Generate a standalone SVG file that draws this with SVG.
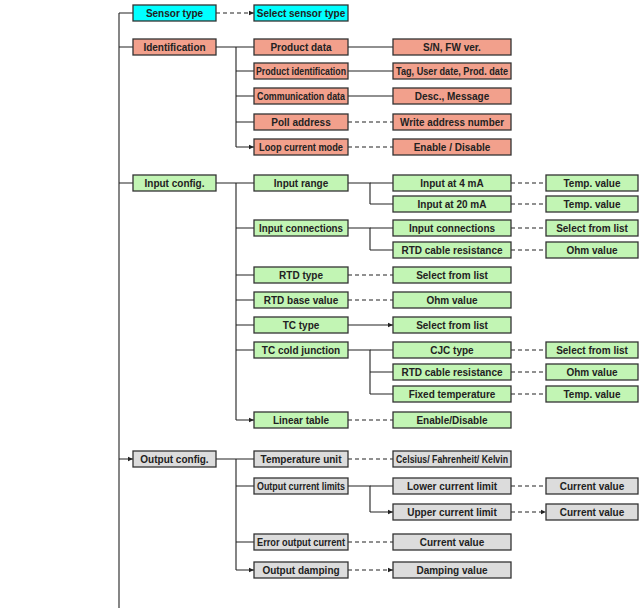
<svg xmlns="http://www.w3.org/2000/svg" width="644" height="608" viewBox="0 0 644 608">
<style>
rect{stroke:#333;stroke-width:1.3}
.c{fill:#00ffff}.s{fill:#f2a08c}.g{fill:#c2f5b4}.y{fill:#dcdcdc}
text{font-family:"Liberation Sans",Arial,sans-serif;font-weight:bold;font-size:10px;fill:#222;text-anchor:middle;dominant-baseline:central}
.l{stroke:#222;stroke-width:1.1;fill:none}
.d{stroke:#222;stroke-width:1.1;fill:none;stroke-dasharray:4,3}
</style>
<defs><marker id="a" markerWidth="6" markerHeight="6" refX="5" refY="3" orient="auto" markerUnits="userSpaceOnUse"><path d="M0,0.8L5,3L0,5.2z" fill="#222"/></marker></defs>
<g id="connectors">
<path class="l" d="M119,13V608"/>
<path class="l" marker-end="url(#a)" d="M119,13H133M119,47H133M119,183H133M119,459H133"/>
<path class="d" marker-end="url(#a)" d="M216,13H254"/>
<path class="l" d="M216,47H236M236,47V147M216,183H236M236,183V420M216,459H236M236,459V570"/>
<path class="l" marker-end="url(#a)" d="M236,47H254M236,71H254M236,96H254M236,122H254M236,147H254"/>
<path class="l" marker-end="url(#a)" d="M236,183H254M236,228H254M236,275H254M236,300H254M236,325H254M236,350H254M236,420H254"/>
<path class="l" marker-end="url(#a)" d="M236,459H254M236,486H254M236,542H254M236,570H254"/>
<path class="l" marker-end="url(#a)" d="M348,47H393M348,71H393M348,96H393M348,325H393"/>
<path class="d" marker-end="url(#a)" d="M348,122H393M348,147H393M348,275H393M348,300H393M348,420H393M348,459H393M348,542H393M348,570H393"/>
<path class="l" d="M348,183H370V204M348,228H370V250M348,350H370V394M348,486H370V512"/>
<path class="l" marker-end="url(#a)" d="M370,183H393M370,204H393M370,228H393M370,250H393M370,350H393M370,372H393M370,394H393M370,486H393M370,512H393"/>
<path class="d" marker-end="url(#a)" d="M511,183H546M511,204H546M511,228H546M511,250H546M511,350H546M511,372H546M511,394H546M511,486H546M511,512H546"/>
</g>
<g id="n-sensor"><rect class="c" x="133" y="5" width="83" height="16"/><text x="174.5" y="13">Sensor type</text></g>
<g id="n-selsensor"><rect class="c" x="254" y="5" width="94" height="16"/><text x="301" y="13">Select sensor type</text></g>
<g id="n-ident"><rect class="s" x="133" y="39" width="83" height="16"/><text x="174.5" y="47">Identification</text></g>
<g id="n-pd"><rect class="s" x="254" y="39" width="94" height="16"/><text x="301" y="47">Product data</text></g>
<g id="n-pi"><rect class="s" x="254" y="63" width="94" height="16"/><text x="301" y="71" textLength="90" lengthAdjust="spacingAndGlyphs">Product identification</text></g>
<g id="n-cd"><rect class="s" x="254" y="88" width="94" height="16"/><text x="301" y="96" textLength="88" lengthAdjust="spacingAndGlyphs">Communication data</text></g>
<g id="n-pa"><rect class="s" x="254" y="114" width="94" height="16"/><text x="301" y="122">Poll address</text></g>
<g id="n-lcm"><rect class="s" x="254" y="139" width="94" height="16"/><text x="301" y="147" textLength="84" lengthAdjust="spacingAndGlyphs">Loop current mode</text></g>
<g id="n-sn"><rect class="s" x="393" y="39" width="118" height="16"/><text x="452" y="47">S/N, FW ver.</text></g>
<g id="n-tag"><rect class="s" x="393" y="63" width="118" height="16"/><text x="452" y="71" textLength="112" lengthAdjust="spacingAndGlyphs">Tag, User date, Prod. date</text></g>
<g id="n-desc"><rect class="s" x="393" y="88" width="118" height="16"/><text x="452" y="96">Desc., Message</text></g>
<g id="n-wan"><rect class="s" x="393" y="114" width="118" height="16"/><text x="452" y="122" textLength="104" lengthAdjust="spacingAndGlyphs">Write address number</text></g>
<g id="n-ed"><rect class="s" x="393" y="139" width="118" height="16"/><text x="452" y="147">Enable / Disable</text></g>
<g id="n-ic"><rect class="g" x="133" y="175" width="83" height="16"/><text x="174.5" y="183">Input config.</text></g>
<g id="n-ir"><rect class="g" x="254" y="175" width="94" height="16"/><text x="301" y="183">Input range</text></g>
<g id="n-icon"><rect class="g" x="254" y="220" width="94" height="16"/><text x="301" y="228" textLength="84" lengthAdjust="spacingAndGlyphs">Input connections</text></g>
<g id="n-rtdt"><rect class="g" x="254" y="267" width="94" height="16"/><text x="301" y="275">RTD type</text></g>
<g id="n-rtdb"><rect class="g" x="254" y="292" width="94" height="16"/><text x="301" y="300">RTD base value</text></g>
<g id="n-tct"><rect class="g" x="254" y="317" width="94" height="16"/><text x="301" y="325">TC type</text></g>
<g id="n-tccj"><rect class="g" x="254" y="342" width="94" height="16"/><text x="301" y="350">TC cold junction</text></g>
<g id="n-lt"><rect class="g" x="254" y="412" width="94" height="16"/><text x="301" y="420">Linear table</text></g>
<g id="n-i4"><rect class="g" x="393" y="175" width="118" height="16"/><text x="452" y="183">Input at 4 mA</text></g>
<g id="n-i20"><rect class="g" x="393" y="196" width="118" height="16"/><text x="452" y="204">Input at 20 mA</text></g>
<g id="n-icon2"><rect class="g" x="393" y="220" width="118" height="16"/><text x="452" y="228">Input connections</text></g>
<g id="n-rcr"><rect class="g" x="393" y="242" width="118" height="16"/><text x="452" y="250">RTD cable resistance</text></g>
<g id="n-sfl1"><rect class="g" x="393" y="267" width="118" height="16"/><text x="452" y="275">Select from list</text></g>
<g id="n-ohm1"><rect class="g" x="393" y="292" width="118" height="16"/><text x="452" y="300">Ohm value</text></g>
<g id="n-sfl2"><rect class="g" x="393" y="317" width="118" height="16"/><text x="452" y="325">Select from list</text></g>
<g id="n-cjc"><rect class="g" x="393" y="342" width="118" height="16"/><text x="452" y="350">CJC type</text></g>
<g id="n-rcr2"><rect class="g" x="393" y="364" width="118" height="16"/><text x="452" y="372">RTD cable resistance</text></g>
<g id="n-ft"><rect class="g" x="393" y="386" width="118" height="16"/><text x="452" y="394">Fixed temperature</text></g>
<g id="n-ed2"><rect class="g" x="393" y="412" width="118" height="16"/><text x="452" y="420">Enable/Disable</text></g>
<g id="n-tv1"><rect class="g" x="546" y="175" width="92" height="16"/><text x="592" y="183">Temp. value</text></g>
<g id="n-tv2"><rect class="g" x="546" y="196" width="92" height="16"/><text x="592" y="204">Temp. value</text></g>
<g id="n-sfl3"><rect class="g" x="546" y="220" width="92" height="16"/><text x="592" y="228">Select from list</text></g>
<g id="n-ohm2"><rect class="g" x="546" y="242" width="92" height="16"/><text x="592" y="250">Ohm value</text></g>
<g id="n-sfl4"><rect class="g" x="546" y="342" width="92" height="16"/><text x="592" y="350">Select from list</text></g>
<g id="n-ohm3"><rect class="g" x="546" y="364" width="92" height="16"/><text x="592" y="372">Ohm value</text></g>
<g id="n-tv3"><rect class="g" x="546" y="386" width="92" height="16"/><text x="592" y="394">Temp. value</text></g>
<g id="n-oc"><rect class="y" x="133" y="451" width="83" height="16"/><text x="174.5" y="459">Output config.</text></g>
<g id="n-tu"><rect class="y" x="254" y="451" width="94" height="16"/><text x="301" y="459">Temperature unit</text></g>
<g id="n-ocl"><rect class="y" x="254" y="478" width="94" height="16"/><text x="301" y="486" textLength="88" lengthAdjust="spacingAndGlyphs">Output current limits</text></g>
<g id="n-eoc"><rect class="y" x="254" y="534" width="94" height="16"/><text x="301" y="542" textLength="88" lengthAdjust="spacingAndGlyphs">Error output current</text></g>
<g id="n-od"><rect class="y" x="254" y="562" width="94" height="16"/><text x="301" y="570">Output damping</text></g>
<g id="n-cfk"><rect class="y" x="393" y="451" width="118" height="16"/><text x="452" y="459" textLength="112" lengthAdjust="spacingAndGlyphs">Celsius/ Fahrenheit/ Kelvin</text></g>
<g id="n-lcl"><rect class="y" x="393" y="478" width="118" height="16"/><text x="452" y="486">Lower current limit</text></g>
<g id="n-ucl"><rect class="y" x="393" y="504" width="118" height="16"/><text x="452" y="512">Upper current limit</text></g>
<g id="n-cv1"><rect class="y" x="393" y="534" width="118" height="16"/><text x="452" y="542">Current value</text></g>
<g id="n-dv"><rect class="y" x="393" y="562" width="118" height="16"/><text x="452" y="570">Damping value</text></g>
<g id="n-cv2"><rect class="y" x="546" y="478" width="92" height="16"/><text x="592" y="486">Current value</text></g>
<g id="n-cv3"><rect class="y" x="546" y="504" width="92" height="16"/><text x="592" y="512">Current value</text></g>
</svg>
